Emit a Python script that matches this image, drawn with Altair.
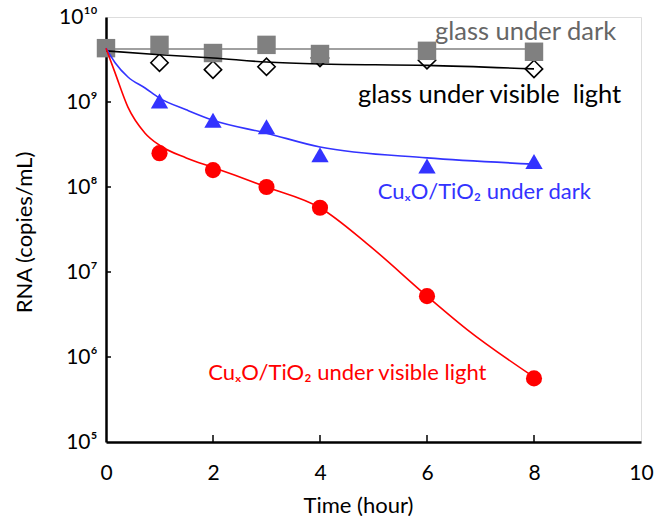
import altair as alt
import pandas as pd

# ---- data ----
time_sq = [0, 1, 2, 3, 4, 6, 8]
glass_dark = [4.3e9, 4.7e9, 3.77e9, 4.7e9, 3.67e9, 4.0e9, 3.9e9]

time_pts = [1, 2, 3, 4, 6, 8]
glass_light = [2.9e9, 2.4e9, 2.6e9, 3.3e9, 3.1e9, 2.45e9]
cu_dark = [1.03e9, 6.1e8, 5.1e8, 2.4e8, 1.77e8, 2.0e8]
cu_light = [2.5e8, 1.58e8, 1.0e8, 5.7e7, 5.2e6, 5.6e5]

# fitted curves
gray_fit_t = [0, 8]
gray_fit = [4.2e9, 4.2e9]
black_fit_t = [0, 1, 2, 3, 4, 6, 8]
black_fit = [4.0e9, 3.6e9, 3.3e9, 2.95e9, 2.8e9, 2.7e9, 2.45e9]
blue_fit_t = [0, 0.17, 0.41, 0.73, 1.0, 1.5, 2.0, 3.0, 4.0, 6.0, 8.0]
blue_fit = [4.3e9, 2.9e9, 1.97e9, 1.46e9, 1.11e9, 8.1e8, 6.1e8, 4.3e8, 2.95e8, 2.2e8, 1.86e8]
red_fit_t = [0, 0.17, 0.41, 0.73, 1.0, 1.5, 2.0, 2.4, 3.0, 4.0, 4.9, 6.0, 6.75, 8.0]
red_fit = [4.3e9, 2.2e9, 8.7e8, 4.3e8, 3.1e8, 2.2e8, 1.7e8, 1.38e8, 1.0e8, 5.7e7, 2.1e7, 5.2e6, 2.1e6, 5.8e5]

x_ticks = [2, 4, 6, 8]
y_ticks = [1e6, 1e7, 1e8, 1e9]

label_text = ["glass under dark", "glass under visible\u00a0 light",
              "CuₓO/TiO₂ under dark", "CuₓO/TiO₂ under visible light"]
label_t = [6.15, 4.71, 5.08, 1.91]
label_y = [6.7e9, 1.21e9, 8.7e7, 6.4e5]
label_color = ["#666666", "#000000", "#3333FF", "#FF0000"]
label_size = [25.5, 25.5, 22, 22]

W, H = 535, 425
FONT = "Lato"

xs = alt.Scale(domain=[0, 10], nice=False)
ys = alt.Scale(type="log", domain=[1e5, 1e10], nice=False)

sup = ("round(log(datum.value)/LN10)==10 ? '10¹⁰' : round(log(datum.value)/LN10)==9 ? '10⁹' : "
       "round(log(datum.value)/LN10)==8 ? '10⁸' : round(log(datum.value)/LN10)==7 ? '10⁷' : "
       "round(log(datum.value)/LN10)==6 ? '10⁶' : '10⁵'")

X = alt.X("t:Q", scale=xs, title="Time (hour)",
          axis=alt.Axis(values=[0, 2, 4, 6, 8, 10], tickSize=0, labelPadding=20, grid=False,
                        domainWidth=2.5, domainColor="black", labelFontSize=21, labelFont=FONT,
                        labelColor="black", titleFont=FONT, titleFontSize=22, titleFontWeight="normal",
                        titleColor="black", titleX=252, titleY=63, titleBaseline="middle",
                        labelFlush=False))
Y = alt.Y("v:Q", scale=ys, title="RNA (copies/mL)",
          axis=alt.Axis(values=[1e5, 1e6, 1e7, 1e8, 1e9, 1e10], tickSize=0, labelPadding=9,
                        grid=False, domainWidth=2.5, domainColor="black", labelFontSize=21,
                        labelFont=FONT, labelColor="black", labelExpr=sup, titleFont=FONT,
                        titleFontSize=22, titleFontWeight="normal", titleColor="black",
                        titleX=-82, titleY=215, titleBaseline="middle", titleAlign="center"))


def df(t, v):
    return pd.DataFrame({"t": t, "v": v})


gray_line = alt.Chart(df(gray_fit_t, gray_fit)).mark_line(color="#808080", strokeWidth=1.6).encode(x=X, y=Y)
diam = alt.Chart(df(time_pts, glass_light)).mark_point(
    shape="diamond", size=300, filled=True, fill="white", stroke="black", strokeWidth=1.6, opacity=1
).encode(x="t:Q", y="v:Q")
squares = alt.Chart(df(time_sq, glass_dark)).mark_point(
    shape="square", size=340, filled=True, color="#808080", opacity=1
).encode(x="t:Q", y="v:Q")
black_line = alt.Chart(df(black_fit_t, black_fit)).mark_line(
    color="black", strokeWidth=1.6, interpolate="monotone").encode(x="t:Q", y="v:Q")
blue_line = alt.Chart(df(blue_fit_t, blue_fit)).mark_line(
    color="#3333FF", strokeWidth=1.6, interpolate="monotone").encode(x="t:Q", y="v:Q")
red_line = alt.Chart(df(red_fit_t, red_fit)).mark_line(
    color="#FF0000", strokeWidth=1.6, interpolate="monotone").encode(x="t:Q", y="v:Q")
tri = alt.Chart(df(time_pts, cu_dark)).mark_point(
    shape="triangle-up", size=300, filled=True, color="#3333FF", opacity=1
).encode(x="t:Q", y="v:Q")
circ = alt.Chart(df(time_pts, cu_light)).mark_point(
    shape="circle", size=260, filled=True, color="#FF0000", opacity=1
).encode(x="t:Q", y="v:Q")

xt = alt.Chart(pd.DataFrame({"t": x_ticks})).mark_rule(color="black", strokeWidth=1.5).encode(
    x="t:Q", y=alt.value(H), y2=alt.value(H - 7))
yt = alt.Chart(pd.DataFrame({"v": y_ticks})).mark_rule(color="black", strokeWidth=1.5).encode(
    y="v:Q", x=alt.value(0), x2=alt.value(5))

labels = alt.Chart(pd.DataFrame({"t": label_t, "v": label_y, "txt": label_text,
                                 "c": label_color, "fs": label_size})).mark_text(
    align="left", baseline="middle", font=FONT
).encode(x="t:Q", y="v:Q", text="txt:N", color=alt.Color("c:N", scale=None),
         size=alt.Size("fs:Q", scale=None))

chart = alt.layer(gray_line, diam, squares, black_line, blue_line, red_line, tri, circ, xt, yt, labels).properties(
    width=W, height=H,
    autosize=alt.AutoSizeParams(type="none"),
    padding={"left": 106, "top": 17, "right": 13, "bottom": 74},
).configure_view(stroke="black", strokeWidth=1.5).configure(background="white")

chart.save("out.html", embed_options={"renderer": "svg", "actions": False})
